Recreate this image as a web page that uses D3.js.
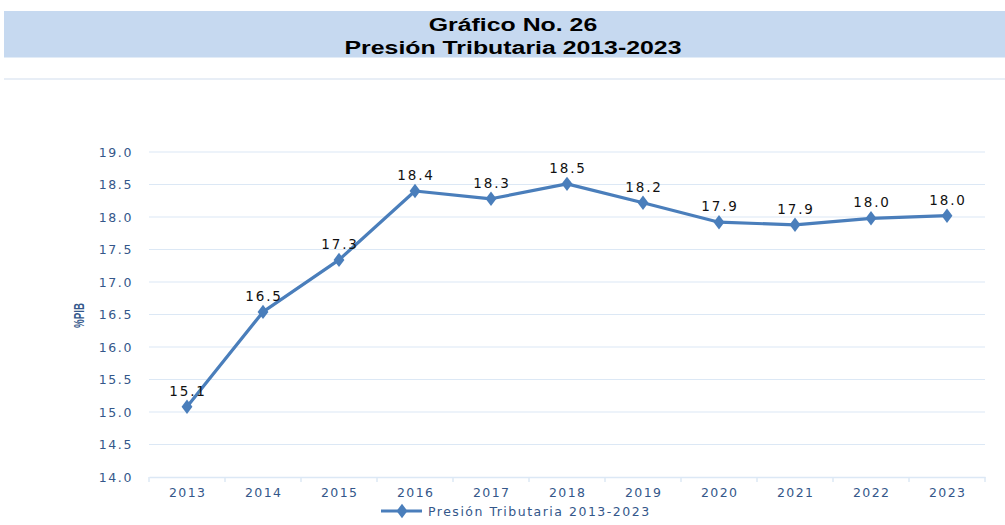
<!DOCTYPE html>
<html>
<head>
<meta charset="utf-8">
<script src="https://cdn.jsdelivr.net/npm/d3@7"></script>
<style>
  body { margin: 0; background: #fff; }
  svg { display: block; }
</style>
</head>
<body>
<svg></svg>
<script>
let width = 1005, height = 525;

// datos
let years = ["2013","2014","2015","2016","2017","2018","2019","2020","2021","2022","2023"];
let presion = [15.08, 16.54, 17.34, 18.40, 18.28, 18.51, 18.22, 17.92, 17.88, 17.98, 18.02];
let etiquetas = ["15.1","16.5","17.3","18.4","18.3","18.5","18.2","17.9","17.9","18.0","18.0"];
let yTicks = [14.0, 14.5, 15.0, 15.5, 16.0, 16.5, 17.0, 17.5, 18.0, 18.5, 19.0];
let serieNombre = "Presión Tributaria 2013-2023";
let titulo = ["Gráfico No. 26", "Presión Tributaria 2013-2023"];

let azul = "#4a7ebb", txtAzul = "#34578a", grid = "#dce8f5";
let fuente = "DejaVu Sans, Verdana, sans-serif";

let svg = d3.select("svg")
  .attr("width", width)
  .attr("height", height);

// banda del título
svg.append("rect")
  .attr("x", 4).attr("y", 11)
  .attr("width", width - 4).attr("height", 46.5)
  .attr("fill", "#c6d9f0");

// el título original está estirado en horizontal
svg.selectAll(".titulo")
  .data(titulo)
  .enter().append("text")
  .attr("class", "titulo")
  .attr("transform", (d, i) => `translate(513,${31 + i * 22.5}) scale(1.42,1)`)
  .attr("text-anchor", "middle")
  .attr("font-family", "Liberation Sans, Arial, sans-serif")
  .attr("font-weight", "bold")
  .attr("font-size", 17.5)
  .attr("fill", "#000")
  .text(d => d);

svg.append("line")
  .attr("x1", 4).attr("x2", width)
  .attr("y1", 79).attr("y2", 79)
  .attr("stroke", "#e8eef6").attr("stroke-width", 2);

let x = d3.scaleBand()
  .domain(years)
  .range([149, 985]);

let y = d3.scaleLinear()
  .domain([14, 19])
  .range([477, 152]);

// rejilla horizontal
svg.append("g")
  .selectAll("line")
  .data(yTicks.filter(d => d > 14))
  .enter().append("line")
  .attr("x1", 149).attr("x2", 985)
  .attr("y1", d => y(d)).attr("y2", d => y(d))
  .attr("stroke", grid).attr("stroke-width", 1.2);

// eje Y
let yAxis = svg.append("g")
  .attr("transform", "translate(149,0)")
  .call(d3.axisLeft(y).tickValues(yTicks).tickFormat(d3.format(".1f")).tickSize(0).tickPadding(16));
yAxis.select(".domain").remove();
yAxis.selectAll("text")
  .attr("font-family", fuente)
  .attr("font-size", 12.5)
  .attr("letter-spacing", 1.6)
  .attr("fill", txtAzul);

// eje X
let xAxis = svg.append("g")
  .attr("transform", "translate(0,477)")
  .call(d3.axisBottom(x).tickSize(0).tickPadding(11));
xAxis.select(".domain").attr("stroke", grid).attr("stroke-width", 1.5);
xAxis.selectAll("text")
  .attr("font-family", fuente)
  .attr("font-size", 12.5)
  .attr("letter-spacing", 1.4)
  .attr("dx", 0.7)
  .attr("fill", txtAzul);

// marcas entre categorías
svg.append("g")
  .selectAll("line")
  .data(d3.range(years.length + 1))
  .enter().append("line")
  .attr("x1", i => 149 + i * x.step()).attr("x2", i => 149 + i * x.step())
  .attr("y1", 477).attr("y2", 482)
  .attr("stroke", grid).attr("stroke-width", 1.5);

// título eje Y
svg.append("text")
  .attr("transform", "translate(84,315.5) rotate(-90) scale(0.81,1.28)")
  .attr("text-anchor", "middle")
  .attr("font-family", "Liberation Sans, Arial, sans-serif")
  .attr("font-weight", "bold")
  .attr("font-size", 12)
  .attr("fill", txtAzul)
  .text("%PIB");

let cx = d => x(d) + x.bandwidth() / 2;

let line = d3.line()
  .x((d, i) => cx(years[i]))
  .y(d => y(d));

svg.append("path")
  .datum(presion)
  .attr("d", line)
  .attr("fill", "none")
  .attr("stroke", azul)
  .attr("stroke-width", 3.2)
  .attr("stroke-linejoin", "round");

let diamante = d3.symbol().type(d3.symbolDiamond).size(60);

svg.append("g")
  .selectAll("path")
  .data(presion)
  .enter().append("path")
  .attr("d", diamante)
  .attr("transform", (d, i) => `translate(${cx(years[i])},${y(d)}) scale(1.3,1)`)
  .attr("fill", azul);

// etiquetas de datos
svg.append("g")
  .selectAll("text")
  .data(presion)
  .enter().append("text")
  .attr("x", (d, i) => cx(years[i]) + 1)
  .attr("y", d => y(d) - 11)
  .attr("text-anchor", "middle")
  .attr("font-family", fuente)
  .attr("font-size", 13.5)
  .attr("letter-spacing", 1.8)
  .attr("fill", "#111")
  .text((d, i) => etiquetas[i]);

// leyenda
let leg = svg.append("g");
leg.append("line")
  .attr("x1", 381).attr("x2", 422)
  .attr("y1", 511).attr("y2", 511)
  .attr("stroke", azul).attr("stroke-width", 3.2);
leg.append("path")
  .attr("d", diamante)
  .attr("transform", "translate(402,511) scale(1.3,1)")
  .attr("fill", azul);
leg.append("text")
  .attr("x", 428).attr("y", 515.5)
  .attr("font-family", fuente)
  .attr("font-size", 12.5)
  .attr("letter-spacing", 1.5)
  .attr("fill", txtAzul)
  .text(serieNombre);
</script>
</body>
</html>
